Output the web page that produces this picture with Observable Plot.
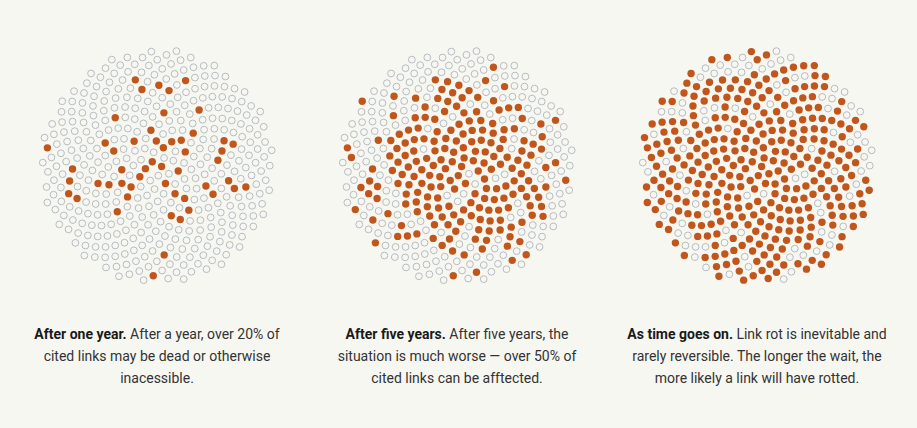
<!DOCTYPE html>
<html>
<head>
<meta charset="utf-8">
<script src="https://cdn.jsdelivr.net/npm/d3@7"></script>
<script src="https://cdn.jsdelivr.net/npm/@observablehq/plot@0.6"></script>
<style>
  body { margin: 0; background: #f7f7f2; font-family: Roboto, "Noto Sans", sans-serif; }
  #chart svg { display: block; }
  #captions { display: flex; padding: 7px 10px 0 7px; }
  .cap { width: 300px; text-align: center; font-size: 14px; line-height: 22px; color: #333; }
  .cap b { font-weight: 700; color: #1a1a1a; }
</style>
</head>
<body>
<div id="chart"></div>
<div id="captions"></div>
<script>
// ---- data ----
const panels = ["After one year", "After five years", "As time goes on"];
const captionLeads = ["After one year.", "After five years.", "As time goes on."];
const captionLines = [
  [" After a year, over 20% of", "cited links may be dead or otherwise", "inacessible."],
  [" After five years, the", "situation is much worse — over 50% of", "cited links can be afftected."],
  [" Link rot is inevitable and", "rarely reversible. The longer the wait, the", "more likely a link will have rotted."]
];
const dotCount = 410;                       // dots in each sunflower
const ringEdges = [0.2, 0.4, 0.6, 0.8, 1.0]; // outer edge of each ring (share of radius)
// share of dead links per ring (inner ring first)
const deadOneYear   = [0.62, 0.36, 0.22, 0.13, 0.04];
const deadFiveYears = [0.94, 0.88, 0.78, 0.50, 0.22];
const deadLongRun   = [1.00, 0.97, 0.88, 0.82, 0.60];
const deadShares = [deadOneYear, deadFiveYears, deadLongRun];

// ---- layout: sunflower (phyllotaxis) packing ----
const golden = Math.PI * (3 - Math.sqrt(5));
function order(i) { // fixed shuffle order of dots inside a ring
  let h = (i + 1) * 2654435761 >>> 0;
  h ^= h >>> 15; h = Math.imul(h, 2246822519) >>> 0;
  h ^= h >>> 13; h = Math.imul(h, 3266489917) >>> 0;
  h ^= h >>> 16;
  return (h >>> 0) / 4294967296;
}
const base = d3.range(dotCount).map(i => {
  const r = Math.sqrt((i + 0.5) / dotCount);
  const a = i * golden;
  const ring = ringEdges.findIndex(e => r <= e);
  return {i, x: r * Math.cos(a), y: r * Math.sin(a), ring, key: order(i)};
});
const dots = panels.flatMap((panel, p) =>
  base.map(d => ({...d, panel, dead: d.key < deadShares[p][d.ring]})));

const s = 150 / 117;
const chart = Plot.plot({
  width: 917,
  height: 316,
  marginLeft: 7,
  marginRight: 10,
  marginTop: 16,
  marginBottom: 0,
  style: {background: "transparent"},
  fx: {domain: panels, padding: 0, axis: null},
  x: {domain: [-s, s], axis: null},
  y: {domain: [-s, s], axis: null},
  marks: [
    Plot.dot(dots.filter(d => !d.dead), {fx: "panel", x: "x", y: "y", r: 3.4, stroke: "#b7bcc1", strokeWidth: 1}),
    Plot.dot(dots.filter(d => d.dead), {fx: "panel", x: "x", y: "y", r: 3.7, fill: "#c1561d"})
  ]
});
document.getElementById("chart").appendChild(chart);

const caps = document.getElementById("captions");
panels.forEach((p, k) => {
  const div = document.createElement("div");
  div.className = "cap";
  const b = document.createElement("b");
  b.textContent = captionLeads[k];
  div.appendChild(b);
  captionLines[k].forEach((line, j) => {
    if (j > 0) div.appendChild(document.createElement("br"));
    div.appendChild(document.createTextNode(line));
  });
  caps.appendChild(div);
});
</script>
</body>
</html>
